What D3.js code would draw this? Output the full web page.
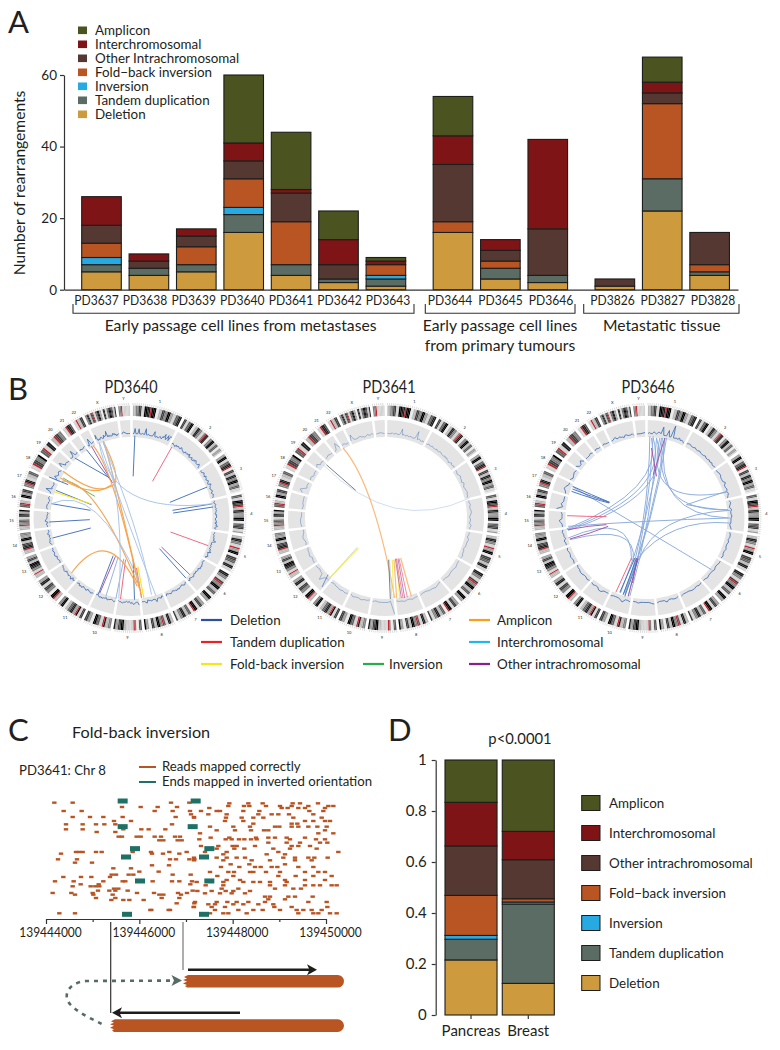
<!DOCTYPE html>
<html><head><meta charset="utf-8">
<script src="https://cdn.jsdelivr.net/npm/d3@7"></script>
<style>html,body{margin:0;padding:0;background:#fff}svg{display:block}text{font-family:Lato,"Open Sans",sans-serif;fill:#231f20}</style>
</head><body><svg id="c" width="780" height="1050"></svg>
<script>
// ---------- Panel A data ----------
const samples=["PD3637","PD3638","PD3639","PD3640","PD3641","PD3642","PD3643","PD3644","PD3645","PD3646","PD3826","PD3827","PD3828"];
const deletion=[5,4,5,16,4,2,1,16,3,2,1,22,4];
const tandem=[2,2,2,5,3,1,2,0,3,2,0,9,1];
const inversion=[2,0,0,2,0,0,1,0,0,0,0,0,0];
const foldback=[4,0,5,8,12,0,3,3,2,0,0,21,2];
const otherIntra=[5,2,3,5,8,4,0,16,3,13,2,3,9];
const interChrom=[8,2,2,5,1,7,1,8,3,25,0,3,0];
const amplicon=[0,0,0,19,16,8,1,11,0,0,0,7,0];
const typeKeys=["deletion","tandem","inversion","foldback","other","inter","amplicon"];
const typeColors=["#cd9a3e","#5a6c63","#27aae1","#b95423","#553831","#7f1416","#4b5320"];
const legendA=["Amplicon","Interchromosomal","Other Intrachromosomal","Fold\u2212back inversion","Inversion","Tandem duplication","Deletion"];
const legendD=["Amplicon","Interchromosomal","Other intrachromosomal","Fold\u2212back inversion","Inversion","Tandem duplication","Deletion"];
const sampleGroup=[0,0,0,0,0,0,0,1,1,1,2,2,2];
const groupLines=[["Early passage cell lines from metastases"],["Early passage cell lines","from primary tumours"],["Metastatic tissue"]];
// ---------- Panel D data ----------
const tissues=["Pancreas","Breast"];
const pancreasFrac=[.216,.081,.015,.157,.194,.171,.166];
const breastFrac=[.124,.311,.008,.013,.153,.111,.28];
// ---------- Panel B data ----------
const chromNames=["1","2","3","4","5","6","7","8","9","10","11","12","13","14","15","16","17","18","19","20","21","22","X","Y"];
const chromMb=[247,243,200,191,181,171,159,146,140,135,134,132,114,106,100,89,79,76,64,62,47,50,155,58];
const bands=[
"335577229988r999113377559944226688",
"7722669911338855225r88115599336611442",
"4499226688r1177338855994466221",
"66229977r3388445599116677224",
"33885522r4499117766338822",
"8855227r55993366119944",
"44772299r1166338855227",
"3388226r5599337711449",
"66115r22222339977448",
"55338r226699114477",
"77229r44886633119955",
"33r99115577228844",
"333r22558899337744",
"333r887733994455",
"333r55662288449",
"66r3311994477",
"55r88223366",
"22r77559",
"66r2288",
"33r7755",
"22r886",
"22r3377",
"55883377r22669944118822669977338",
"55r222222"];
const bandShade={0:"#f4f4f4",1:"#e8e8e8",2:"#d2d2d2",3:"#b8b8b8",4:"#9c9c9c",5:"#808080",6:"#5e5e5e",7:"#3e3e3e",8:"#1e1e1e",9:"#000000",r:"#c1272d"};
const linkStyle={D:"#4472b8",d:"#8fb0dc",T:"#f2607a",Y:"#f4e61e",G:"#58b45a",A:"#f6a24b",I:"#a6c3e8",O:"#a452a4",K:"#4a4f55"};
// copy-number tracks, base-36 height per genomic bin, one string per chromosome
const cn3640=[
"4494449444544a4454444594454465476a56a5a9",
"4544354554465443354454634453354654446533",
"43345443544345433654434454345443",
"44345444545443545434453546435",
"4434445474343443546344534",
"433445453443434544354",
"3454344545443454435",
"4354447444544365444",
"7445645343445443",
"4543445344545434",
"4454435443545344",
"4536445443554433",
"4334435544544",
"345443435434",
"44536544434",
"4555443454",
"45a45445",
"447545654",
"6a745544",
"5445a5445",
"454455",
"43a445",
"6a4454565447566a4545444656453445",
"465444"];
const cn3641=[
"444454454445a454454454445c4554454",
"44544544454455444545443454454",
"44345443543445443",
"445445543443544",
"443544434454",
"44544544",
"34544334",
"445445443",
"g3444434",
"34454453",
"45454434",
"445a44344",
"4435443",
"4345433",
"45544",
"43444",
"7a454",
"45344",
"57454",
"44544",
"34a4",
"45434",
"4a544455443454454",
"454"];
const cn3646=[
"4544654665c444a44g445464543",
"455445445444544545445",
"445544464454543",
"45435445444345",
"455454454454",
"55445444544",
"454554445",
"4554464445",
"654444544",
"544754445",
"444664454",
"454455443",
"54454454",
"44534454",
"44574445",
"a46444",
"457644",
"53454",
"74474",
"44454",
"4544",
"45444",
"44564454435544453",
"445"];
const links3640=[
["D",405,198,400,320],["T",516,232,458,335],["D",622,352,510,398],["D",635,403,518,422],["D",640,412,520,430],["T",625,528,512,487],["O",570,615,485,532],["D",558,625,479,537],
["T",425,685,410,595],["Y",432,685,414,590],["D",404,690,400,570],["T",362,688,377,570],["d",348,688,372,567],["O",300,670,347,560],["D",295,675,340,558],["d",318,680,355,562],
["D",158,505,273,475],["D",148,457,270,450],["D",155,402,272,422],["D",168,362,275,405],["Y",165,367,275,403],["D",148,322,205,345],["G",190,325,285,380],["D",225,265,330,325],["D",260,240,335,335],["O",275,230,338,340],
["A",190,305,270,352,328,352],["A",182,325,270,362,335,345],["A",185,335,290,405,412,640],["A",310,215,348,318,322,352],["A",280,228,345,370,418,655],["A",312,218,360,400,425,680],["A",215,610,320,545,412,650],
["I",298,218,400,375,640,402],["I",312,218,355,430,357,685],["I",300,222,390,470,468,678],["I",310,220,400,460,455,675],["I",155,402,290,430,420,640]];
const links3641=[
["I",665,385,440,415,225,285],["A",285,235,370,400,440,685],["K",235,285,323,362],
["K",427,688,422,570],["I",432,688,425,570],["Y",437,685,433,570],["Y",455,688,447,567],["O",460,685,442,567],["T",465,685,445,567],["O",470,685,450,567],["T",478,683,453,566],["A",490,680,458,565],["A",446,686,438,570],
["I",222,652,327,533],["Y",248,622,331,535],["D",240,615,222,652]];
const links3646=[
["I",420,200,400,450,345,675],["I",430,200,405,450,355,680],["I",440,205,415,440,360,680],["I",465,205,420,440,345,670],["I",455,205,405,450,332,670],["I",470,205,420,450,340,675],
["I",430,205,390,355,172,480],["I",440,205,400,360,175,482],["I",425,205,380,350,170,478],
["I",175,505,320,480,365,572],["I",180,510,330,500,370,575],["I",450,205,475,350,650,368],["I",458,205,490,370,655,420],["I",465,205,495,380,655,445],
["I",650,422,590,415,530,405],["I",650,365,590,385,530,405],["I",660,445,410,455,175,470],["I",660,422,480,465,388,570],["I",660,460,500,480,380,570],["I",190,352,400,477,605,600],
["D",188,350,245,375,300,398],["D",188,358,245,380,298,398],["D",185,365,245,385,298,400],["T",172,438,230,440,290,441],["T",318,668,365,565],
["O",175,480,235,470,290,465],["O",180,508,240,490,295,470],["O",355,680,385,565],["O",430,315,465,205],["O",425,235,440,320],["O",368,640,382,565],
["D",330,668,375,565],["D",340,675,380,565],["D",345,680,385,568]];
// ---------- Panel C data ----------
const readGenomeStart=139444000, readBinBp=6000/840; // one read-bin is about 7 bp, bin 137 is the first tick
const readLeftBase=137, readRightBase=569;
const readRowsLeft=[
[20,[25,80,375,430]],[33,[228,284,335,393]],[45,[53,107,326,380,432]],[55,[435]],[63,[80,132,172,230,389,444]],[75,[204,255]],[85,[60,110,150,175,208,378]],[100,[60,110,232,286,308,358]],[108,[152,208]],[122,[218,228,272,284,326,345,387,402]],[133,[340,352,395,407]],
[168,[90,100,110,150,167,260,315,370,422]],[173,[45,318,351,400]],[190,[36,93,372,390,430,445]],[200,[87,138]],[208,[318,369]],[217,[202,255]],[227,[280,338]],[236,[197,248,262,210,380,434]],[243,[52,105,136,192]],[256,[27,83,172,230,238,320,378,400,438]],[265,[104,158,433]],[271,[80,134,148,160]],[278,[204,217]],[284,[156,190,208,245,440]],[291,[20,76,140,273,324,396,423]],[296,[87,142,200,340,352,405]],[306,[150,208,347,400]],[312,[196,232,250,293]],[322,[392,445]],[333,[443]],[342,[316,313,372,368]],[352,[40,87]]];
const readRowsRight=[
[22,[118,175,218,308,330,384]],[30,[115,162,178,228,270,305,355,415,430]],[36,[58,275,293,325,345,405]],[45,[33,90,80,160,208,358,400]],[55,[55,110,205,245,265,297,370]],[65,[12,108,155,190,220,310,395]],[75,[105,160,345,370,405,420]],[83,[190,305,322]],[92,[60,130,180,255,268,305,325,355,382,410]],[103,[80,135,183,222,235,405]],[112,[30,385,430]],[125,[62,118,198,235,255,290,345]],[130,[28,107,125,147,163,183,200,300,378,405]],[140,[290,235,330,390,412]],[150,[33,85,128,140,195,305,325,360]],[158,[80,133,163,250,300,380]],[168,[45,110,265,445]],[175,[100,230,285]],[185,[12,80,110,140,165,280,315,355,373,413]],[193,[12,100,240,185,315,365]],[205,[122,178,285]],[213,[93,148,195,212,262,245,325,370]],[228,[60,115,132,180,190,228,270,345,385,405]],[240,[82,130,265,317,370,425]],[252,[110,150,285,345,405]],[258,[20,100,160,190,210,240,290]],[268,[47,100,240,285,345,370,390,425,440]],[278,[95,145,255,310,333]],[285,[22,65,107,130,180]],[292,[45,90,125,165]],[302,[240,225,295,315,368]],[310,[235,285]],[318,[15,80,112,140,175,225,355,410]],[325,[55,75,130,160,205,250]],[333,[12,65,105,253,305,412]],[342,[75,145,190,218,270,320,340,365,395]],[352,[60,100,115,170,325,370,385,420,440]]];
const invertedBins=[367,586,367,577,404,627,377,611,419,627,380,611];
const invertedDepth=[15,15,92,92,158,158,183,183,255,255,355,355];
const readTicks=[139444000,139446000,139448000,139450000];

const svg=d3.select("#c");
const dark="#1d1d1b";
function txt(s,x,y,size,anchor,parent){return (parent||svg).append("text").attr("x",x).attr("y",y).attr("font-size",size).attr("text-anchor",anchor||"start").text(s);}
[["A",8,33],["B",8,400],["C",8,741],["D",388,741]].forEach(d=>txt(d[0],d[1],d[2],31));
function styleAxis(g,size){g.selectAll("path,line").attr("stroke","#333").attr("stroke-width",1.2);g.selectAll("text").attr("font-size",size).attr("fill","#231f20").style("font-family","Lato");}

// ---------- A ----------
(function(){
 const y=d3.scaleLinear().domain([0,60]).range([289.7,75]);
 const slot=i=>i+sampleGroup[i]*0.415;
 const x=d3.scaleLinear().domain([0,1]).range([81.7,129.1]);
 const rows=samples.map((s,i)=>({s,i,deletion:deletion[i],tandem:tandem[i],inversion:inversion[i],foldback:foldback[i],other:otherIntra[i],inter:interChrom[i],amplicon:amplicon[i]}));
 const series=d3.stack().keys(typeKeys)(rows);
 const g=svg.append("g");
 g.selectAll("g").data(series).join("g").attr("fill",(d,i)=>typeColors[i]).selectAll("rect")
  .data(d=>d.filter(p=>p[1]>p[0])).join("rect")
  .attr("x",d=>x(slot(d.data.i))).attr("width",39.6).attr("y",d=>y(d[1])).attr("height",d=>y(d[0])-y(d[1]))
  .attr("stroke",dark).attr("stroke-width",1.1);
 const ax=svg.append("g").attr("transform","translate(64,0)").call(d3.axisLeft(y).tickValues([0,20,40,60]).tickSize(4).tickPadding(3).tickSizeOuter(0));
 styleAxis(ax,13.5);
 const base=d3.scaleLinear().domain([0,1]).range([64,738]);
 const bx=svg.append("g").attr("transform","translate(0,289.7)").call(d3.axisBottom(base).tickValues([]).tickSizeOuter(0));
 styleAxis(bx,13);
 txt("Number of rearrangements",0,0,15.6,"middle").attr("transform","translate(25,183) rotate(-90)");
 const labelStart=[96.5,450,612.5],labelStep=[48.6,50.5,50.25],first=[0,7,10];
 samples.forEach((s,i)=>{const k=sampleGroup[i];txt(s,labelStart[k]+labelStep[k]*(i-first[k]),304.5,13.4,"middle").attr("textLength",44.5).attr("lengthAdjust","spacingAndGlyphs");});
 const br=[[73,414],[425.3,575],[583.7,739]],centres=[240.6,500,661.7];
 br.forEach((b,k)=>{
  svg.append("path").attr("fill","none").attr("stroke","#333").attr("stroke-width",1.1).attr("d",d3.line()([[b[0],304],[b[0],313.3],[b[1],313.3],[b[1],304]]));
  groupLines[k].forEach((t,j)=>txt(t,centres[k],331+j*20,15.7,"middle"));
 });
 const ly=d3.scalePoint().domain(legendA).range([30.3,114.3]);
 legendA.forEach((t,i)=>{
  svg.append("rect").attr("x",78).attr("y",ly(t)-3.8).attr("width",9).attr("height",7.6).attr("fill",typeColors[6-i]);
  txt(t,95,ly(t)+4.8,13.4);
 });
})();

// ---------- B ----------
(function(){
 const total=d3.sum(chromMb),gap=1.5*Math.PI/180;
 const angle=d3.scaleLinear().domain([0,total]).range([gap/2,2*Math.PI-gap*24+gap/2]);
 let cum=0;
 const chroms=chromMb.map((mb,i)=>{const o={i,name:chromNames[i],mb,a0:angle(cum)+i*gap,a1:angle(cum+mb)+i*gap};cum+=mb;return o;});
 const arc=d3.arc();
 const rCn=d3.scaleLinear().domain([0,10]).range([80.5,90.5]);
 const panels=[
  {t:"PD3640",cx:131.5,cy:518,tx:131,cn:cn3640,links:links3640,readCx:395,cnOp:.95,cnW:.9,linkOp:.95,inter:"#a6c3e8"},
  {t:"PD3641",cx:386,cy:518,tx:389,cn:cn3641,links:links3641,readCx:414,cnOp:.55,cnW:.8,linkOp:.72,inter:"#bcd2ee"},
  {t:"PD3646",cx:646.5,cy:518,tx:648,cn:cn3646,links:links3646,readCx:410,cnOp:.95,cnW:.9,linkOp:.95,inter:"#8aabdc"}];
 panels.forEach(p=>{
  txt(p.t,p.tx,392.5,16.5,"middle").attr("textLength",53).attr("lengthAdjust","spacingAndGlyphs");
  const g=svg.append("g").attr("transform",`translate(${p.cx},${p.cy})`);
  g.selectAll("path.grey").data(chroms).join("path").attr("class","grey").attr("fill","#e4e4e4")
   .attr("d",c=>arc({innerRadius:81,outerRadius:98,startAngle:c.a0,endAngle:c.a1}));
  chroms.forEach(c=>{
   const s=bands[c.i].split(""),b=d3.scaleLinear().domain([0,s.length]).range([c.a0,c.a1]);
   g.append("g").selectAll("path").data(s).join("path").attr("fill",d=>bandShade[d])
    .attr("d",(d,j)=>arc({innerRadius:102,outerRadius:112.5,startAngle:b(j),endAngle:b(j+1)}));
   const ticks=d3.range(0,c.mb,10).map(m=>c.a0+(c.a1-c.a0)*m/c.mb);
   g.append("g").selectAll("line").data(ticks).join("line").attr("stroke","#b5b5b5").attr("stroke-width",.5)
    .attr("x1",a=>113*Math.sin(a)).attr("y1",a=>-113*Math.cos(a)).attr("x2",a=>115*Math.sin(a)).attr("y2",a=>-115*Math.cos(a));
   const am=(c.a0+c.a1)/2;
   txt(c.name,120*Math.sin(am),-120*Math.cos(am)+1.4,4,"middle",g).attr("fill","#444");
   const v=p.cn[c.i].split("").map(ch=>parseInt(ch,36));
   const a=d3.scaleLinear().domain([0,v.length-1]).range([c.a0+.005,c.a1-.005]);
   g.append("path").attr("fill","none").attr("stroke","#3f70b8").attr("stroke-width",p.cnW).attr("opacity",p.cnOp)
    .attr("d",d3.lineRadial().angle((d,j)=>a(j)).radius(d=>rCn(d))(v));
  });
  const lx=d3.scaleLinear().domain([p.readCx-345,p.readCx+345]).range([-115,115]);
  const ly=d3.scaleLinear().domain([445-345,445+345]).range([-115,115]);
  g.append("g").attr("fill","none").selectAll("path").data(p.links).join("path")
   .attr("stroke",d=>d[0]==="I"?p.inter:linkStyle[d[0]]).attr("stroke-width",d=>d[0]==="Y"||d[0]==="A"?1.2:1).attr("opacity",p.linkOp)
   .attr("d",d=>{
     const path=d3.path(),P=[];for(let i=1;i<d.length;i+=2)P.push([lx(d[i]),ly(d[i+1])]);
     path.moveTo(P[0][0],P[0][1]);
     if(P.length===2)path.lineTo(P[1][0],P[1][1]);
     else path.quadraticCurveTo(2*P[1][0]-(P[0][0]+P[2][0])/2,2*P[1][1]-(P[0][1]+P[2][1])/2,P[2][0],P[2][1]);
     return path.toString();
   });
 });
 const leg=[["Deletion","#2e4fa2",201,620],["Tandem duplication","#ed2024",201,642],["Fold-back inversion","#f5e616",201,664],["Inversion","#27ae4a",363,664],["Amplicon","#f8a01c",469,620],["Interchromosomal","#1fb7ec",469,642],["Other intrachromosomal","#8e1d8c",469,664]];
 leg.forEach(d=>{
  svg.append("line").attr("x1",d[2]).attr("x2",d[2]+21).attr("y1",d[3]).attr("y2",d[3]).attr("stroke",d[1]).attr("stroke-width",2.2);
  txt(d[0],d[2]+(d[2]===363?26:d[2]===469?28:29),d[3]+5,13.4);
 });
})();

// ---------- C ----------
(function(){
 txt("Fold-back inversion",72,737.5,16.2);
 txt("PD3641: Chr 8",19,774.5,13.2);
 const orange="#b95423",teal="#1d7165";
 [["Reads mapped correctly",orange,766],["Ends mapped in inverted orientation",teal,781]].forEach(d=>{
  svg.append("line").attr("x1",139).attr("x2",156).attr("y1",d[2]+1).attr("y2",d[2]+1).attr("stroke",d[1]).attr("stroke-width",2);
  txt(d[0],162,d[2]+4.5,13.2);
 });
 const x=d3.scaleLinear().domain([139444000,139450000]).range([46,326]);
 const bin=b=>readGenomeStart+(b-137)*readBinBp;
 const y=d3.scaleLinear().domain([0,352]).range([796,913.3]);
 const reads=readRowsLeft.flatMap(r=>r[1].map(b=>({b:b+readLeftBase,l:r[0]})))
  .concat(readRowsRight.flatMap(r=>r[1].map(b=>({b:b+readRightBase,l:r[0]}))));
 svg.append("g").selectAll("rect").data(reads).join("rect").attr("x",d=>x(bin(d.b))-2.2).attr("y",d=>y(d.l)-1.2).attr("width",4.4).attr("height",2.4).attr("fill",orange);
 svg.append("g").selectAll("rect").data(invertedBins).join("rect").attr("x",d=>x(bin(d))-5).attr("y",(d,i)=>y(invertedDepth[i])-2.5).attr("width",10).attr("height",5).attr("fill",teal);
 const minor=d3.axisBottom(x).tickValues([139445000,139447000,139449000]).tickSize(3).tickFormat("").tickSizeOuter(0);
 styleAxis(svg.append("g").attr("transform","translate(0,919)").call(minor),13);
 const major=d3.axisBottom(x).tickValues(readTicks).tickSize(5).tickPadding(3).tickFormat(d3.format("d")).tickSizeOuter(0);
 const ax=svg.append("g").attr("transform","translate(0,919)").call(major);
 styleAxis(ax,13.4);ax.selectAll("text").attr("dx",4).attr("textLength",62.5).attr("lengthAdjust","spacingAndGlyphs");
 const bpL=bin(137+(110.7-46)/280*840),bpR=bin(137+(183-46)/280*840);
 svg.append("line").attr("x1",x(bpL)).attr("x2",x(bpL)).attr("y1",922).attr("y2",1013).attr("stroke","#333").attr("stroke-width",1.2);
 svg.append("line").attr("x1",x(bpR)).attr("x2",x(bpR)).attr("y1",922).attr("y2",970).attr("stroke","#777").attr("stroke-width",1.2);
 function strand(x0,y0){
  const h=12.6,r=h/2,xe=344;
  svg.append("path").attr("fill",orange).attr("d",
   d3.line()([[x0+4,y0],[x0,y0+2],[x0+3,y0+3.5],[x0-1,y0+5],[x0+3,y0+6.5],[x0-1,y0+8.5],[x0+3,y0+10],[x0+1,y0+11],[x0+3,y0+h]])
   +`L${xe-r},${y0+h}A${r},${r} 0 0 0 ${xe-r},${y0}Z`);
 }
 strand(184,975);strand(111,1019.3);
 function arrow(x0,x1,yy){
  const s=Math.sign(x1-x0);
  svg.append("line").attr("x1",x0).attr("x2",x1-s*6).attr("y1",yy).attr("y2",yy).attr("stroke","#1d1d1b").attr("stroke-width",2.4);
  svg.append("path").attr("fill","#1d1d1b").attr("d",d3.line()([[x1,yy],[x1-s*10,yy-5.5],[x1-s*7.5,yy],[x1-s*10,yy+5.5]])+"Z");
 }
 arrow(188,317,969.7);arrow(240,112,1012.7);
 svg.append("path").attr("fill","none").attr("stroke","#566b63").attr("stroke-width",2.6).attr("stroke-dasharray","4,5")
  .attr("d","M170,980.6L86,981C66,983 62,998 72,1006C80,1014 92,1019 102,1024");
 svg.append("path").attr("fill","#566b63").attr("d",d3.line()([[182,980.6],[171.5,975],[174,980.6],[171.5,986]])+"Z");
})();

// ---------- D ----------
(function(){
 const y=d3.scaleLinear().domain([0,1]).range([1015,760]);
 const x=d3.scaleBand().domain(tissues).range([445,554.3]).paddingInner(.0915);
 const rows=tissues.map((t,i)=>{const o={t};typeKeys.forEach((k,j)=>o[k]=(i?breastFrac:pancreasFrac)[j]);return o;});
 const series=d3.stack().keys(typeKeys)(rows);
 svg.append("g").selectAll("g").data(series).join("g").attr("fill",(d,i)=>typeColors[i]).selectAll("rect").data(d=>d).join("rect")
  .attr("x",d=>x(d.data.t)).attr("width",x.bandwidth()).attr("y",d=>y(d[1])).attr("height",d=>y(d[0])-y(d[1])).attr("stroke",dark).attr("stroke-width",1.1);
 const ax=svg.append("g").attr("transform","translate(435.7,0)").call(d3.axisLeft(y).tickValues([0,.2,.4,.6,.8,1]).tickFormat(d=>d3.format("~g")(d)).tickSize(4).tickPadding(5).tickSizeOuter(0));
 styleAxis(ax,15);
 const bx=svg.append("g").attr("transform","translate(0,1015)").call(d3.axisBottom(x).tickSize(4).tickSizeOuter(0).tickPadding(6));
 styleAxis(bx,15);bx.select("path").attr("stroke","none");
 txt("p<0.0001",520,744,14.8,"middle");
 const ly=d3.scalePoint().domain(legendD).range([803,983]);
 legendD.forEach((t,i)=>{
  svg.append("rect").attr("x",581.7).attr("y",ly(t)-7.5).attr("width",18.3).attr("height",15).attr("fill",typeColors[6-i]).attr("stroke",dark).attr("stroke-width",1);
  txt(t,609,ly(t)+4.6,13.4);
 });
})();
</script></body></html>
